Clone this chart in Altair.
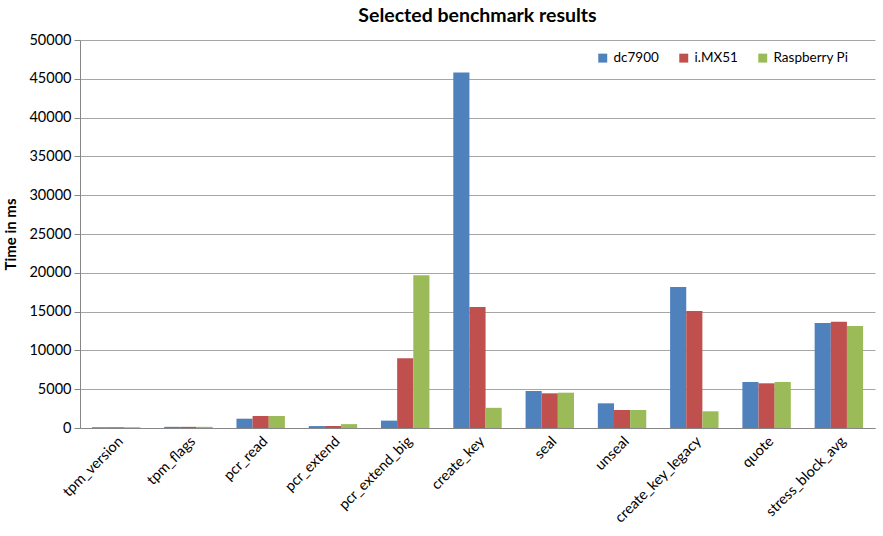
import altair as alt
import pandas as pd

categories = ["tpm_version", "tpm_flags", "pcr_read", "pcr_extend", "pcr_extend_big",
              "create_key", "seal", "unseal", "create_key_legacy", "quote", "stress_block_avg"]
series = ["dc7900", "i.MX51", "Raspberry Pi"]
dc7900 = [100, 150, 1200, 250, 950, 45800, 4770, 3180, 18170, 5930, 13530]
imx51 = [100, 150, 1550, 250, 9000, 15600, 4470, 2320, 15080, 5760, 13700]
rpi = [100, 150, 1550, 500, 19700, 2600, 4550, 2320, 2150, 5930, 13140]
colors = ["#4F81BD", "#C0504D", "#9BBB59"]

rows = []
for name, vals in zip(series, [dc7900, imx51, rpi]):
    for c, v in zip(categories, vals):
        rows.append({"test": c, "device": name, "time": v})
df = pd.DataFrame(rows)

font = "Lato"
chart = alt.Chart(df).mark_bar(strokeWidth=0).encode(
    x=alt.X("test:N", sort=categories, title=None,
            scale=alt.Scale(paddingInner=0.33, paddingOuter=0.165),
            axis=alt.Axis(labelAngle=-45, labelFontSize=14.5, labelColor="#000000",
                          ticks=False, domainColor="#868686", labelPadding=6,
                          labelFont=font)),
    xOffset=alt.XOffset("device:N", sort=series),
    y=alt.Y("time:Q", title="Time in ms",
            scale=alt.Scale(domain=[0, 50000], nice=False),
            axis=alt.Axis(values=list(range(0, 50001, 5000)), format="d", labelFontSize=14.5,
                          labelColor="#000000", titleFontSize=15, titleFont=font,
                          labelFont=font, titleFontWeight="bold", titleColor="#000000",
                          gridColor="#a6a6a6", domainColor="#868686", tickColor="#868686",
                          tickSize=6, labelPadding=3, titlePadding=10)),
    color=alt.Color("device:N", sort=series,
                    scale=alt.Scale(domain=series, range=colors),
                    legend=alt.Legend(title=None, orient="none", direction="horizontal",
                                      legendX=516, legendY=11, symbolType="square",
                                      symbolSize=80, labelFontSize=13.5, labelFont=font,
                                      labelColor="#000000", columnPadding=18,
                                      symbolStrokeWidth=0)),
).properties(
    width=795, height=388,
    title=alt.TitleParams("Selected benchmark results", fontSize=19.5, font=font,
                          fontWeight="bold", color="#000000", anchor="middle", offset=6),
    autosize=alt.AutoSizeParams(type="none"),
    padding={"left": 80, "top": 40, "right": 8, "bottom": 108},
).configure_view(stroke=None)

chart.save("out.html", embed_options={"renderer": "svg", "actions": False})
